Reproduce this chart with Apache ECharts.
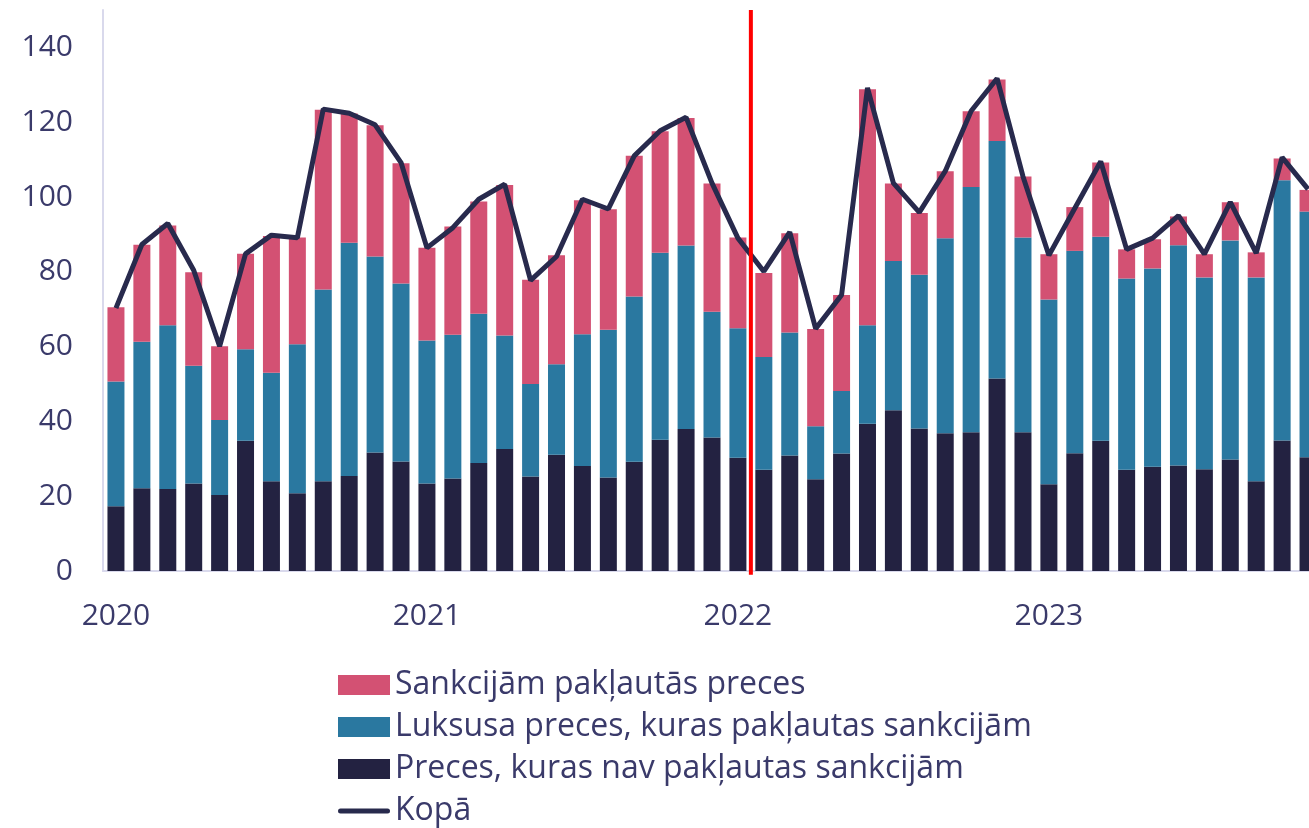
<!DOCTYPE html>
<head>
<meta charset="utf-8">
<title>ECharts</title>
</head>
<body style="margin:0; overflow:hidden">
<div id="main" style="width: 1330px; height: 828px"></div>
<script src="https://cdn.jsdelivr.net/npm/echarts@6/dist/echarts.min.js"></script>
<script>
// monthly, Jan 2020 .. Nov 2023 (the last bar runs off the right edge)
var years = ['2020', '2021', '2022', '2023'];
var months = [];
for (var y = 0; y < years.length; y++) {
    for (var m = 1; m <= 12; m++) {
        if (years[y] === '2023' && m > 11) break;
        months.push(years[y] + '-' + (m < 10 ? '0' + m : m));
    }
}

var notSanctioned = [
    17.3, 22.1, 21.9, 23.4, 20.3, 34.8, 24.0, 20.8, 24.0, 25.4, 31.7, 29.3,
    23.4, 24.7, 28.9, 32.6, 25.3, 31.1, 28.1, 25.0, 29.2, 35.1, 38.0, 35.7,
    30.3, 27.1, 30.9, 24.5, 31.4, 39.4, 43.0, 38.1, 36.8, 37.1, 51.5, 37.1,
    23.2, 31.5, 34.8, 27.1, 27.9, 28.2, 27.2, 29.8, 24.0, 34.9, 30.4
];
var luxury = [
    33.4, 39.2, 43.8, 31.5, 20.1, 24.5, 29.0, 39.8, 51.3, 62.4, 52.4, 47.6,
    38.2, 38.5, 39.9, 30.4, 24.7, 24.2, 35.2, 39.5, 44.2, 50.0, 49.0, 33.6,
    34.6, 30.1, 32.9, 14.2, 16.7, 26.3, 39.9, 41.1, 52.2, 65.6, 63.5, 52.1,
    49.4, 54.1, 54.6, 51.1, 53.0, 58.9, 51.3, 58.6, 54.5, 69.6, 65.7
];
var sanctioned = [
    19.8, 25.9, 26.7, 25.0, 19.7, 25.5, 36.6, 28.6, 48.0, 34.5, 35.1, 32.1,
    24.8, 28.9, 30.0, 40.2, 27.9, 29.1, 35.8, 32.2, 37.6, 32.5, 34.1, 34.3,
    24.3, 22.5, 26.5, 26.0, 25.7, 63.1, 20.7, 16.5, 17.9, 20.2, 16.4, 16.3,
    12.1, 11.7, 19.8, 7.8, 7.8, 7.7, 6.2, 10.2, 6.7, 5.8, 5.8
];
var total = [
    70.3, 87.3, 92.9, 80.4, 60.1, 84.8, 89.8, 89.1, 123.5, 122.4, 119.3, 109.2,
    86.4, 91.8, 99.4, 103.4, 77.7, 84.1, 99.4, 96.8, 111.0, 117.7, 121.3, 103.7,
    89.0, 80.1, 90.6, 64.8, 73.8, 129.2, 103.7, 95.9, 106.9, 123.0, 131.7, 105.5,
    84.4, 97.0, 109.5, 86.0, 89.0, 95.0, 84.7, 98.6, 85.0, 110.6, 102.1
];
// red marker between Jan and Feb 2022 (category index)
var sanctionsStart = 24.5;

var textColor = '#3a3a6a';
var fontFamily = 'Open Sans';
var lineColor = '#282a4d';

var myChart = echarts.init(document.getElementById('main'));
myChart.setOption({
    animation: false,
    grid: {
        left: 103,
        top: 10,
        right: 9,
        height: 561
    },
    legend: {
        orient: 'vertical',
        left: 338,
        top: 668,
        height: 300,
        padding: 0,
        itemWidth: 52,
        itemHeight: 20,
        itemGap: 8,
        textStyle: { color: textColor, fontFamily: fontFamily, fontSize: 32, lineHeight: 34 },
        data: [
            { name: 'Sankcijām pakļautās preces', icon: 'rect' },
            { name: 'Luksusa preces, kuras pakļautas sankcijām', icon: 'rect' },
            { name: 'Preces, kuras nav pakļautas sankcijām', icon: 'rect' },
            {
                name: 'Kopā',
                icon: 'path://M0,0 M52,20 M2.5,7.5 L49.5,7.5 A2.5,2.5 0 0 1 49.5,12.5 L2.5,12.5 A2.5,2.5 0 0 1 2.5,7.5 Z',
                itemStyle: { color: lineColor, borderWidth: 0 }
            }
        ]
    },
    xAxis: [{
        type: 'category',
        data: months,
        axisLine: { lineStyle: { color: '#d9d9ec', width: 2 } },
        axisTick: { show: false },
        axisLabel: {
            interval: function (idx) { return idx % 12 === 0; },
            formatter: function (v) { return v.slice(0, 4); },
            color: textColor,
            fontFamily: fontFamily,
            fontSize: 30,
            margin: 30
        }
    }, {
        type: 'value',
        min: -0.5,
        max: months.length - 0.5,
        show: false
    }],
    yAxis: {
        type: 'value',
        min: 0,
        max: 150,
        interval: 20,
        splitLine: { show: false },
        axisLine: { show: true, onZero: false, lineStyle: { color: '#d9d9ec', width: 2 } },
        axisTick: { show: false },
        axisLabel: {
            showMaxLabel: false,
            color: textColor,
            fontFamily: fontFamily,
            fontSize: 30,
            margin: 30
        }
    },
    series: [{
        name: 'Preces, kuras nav pakļautas sankcijām',
        type: 'bar',
        stack: 'a',
        barWidth: 17,
        itemStyle: { color: '#232241' },
        data: notSanctioned
    }, {
        name: 'Luksusa preces, kuras pakļautas sankcijām',
        type: 'bar',
        stack: 'a',
        itemStyle: { color: '#2a78a0' },
        data: luxury
    }, {
        name: 'Sankcijām pakļautās preces',
        type: 'bar',
        stack: 'a',
        itemStyle: { color: '#d35173' },
        data: sanctioned
    }, {
        name: 'Kopā',
        type: 'line',
        symbol: 'none',
        lineStyle: { color: lineColor, width: 5 },
        itemStyle: { color: lineColor },
        data: total,
        z: 5
    }, {
        name: 'marker',
        type: 'line',
        xAxisIndex: 1,
        symbol: 'none',
        clip: false,
        silent: true,
        lineStyle: { color: '#ff0000', width: 4 },
        data: [[sanctionsStart, -1], [sanctionsStart, 150]],
        z: 6
    }]
});
</script>

</body>
</html>
